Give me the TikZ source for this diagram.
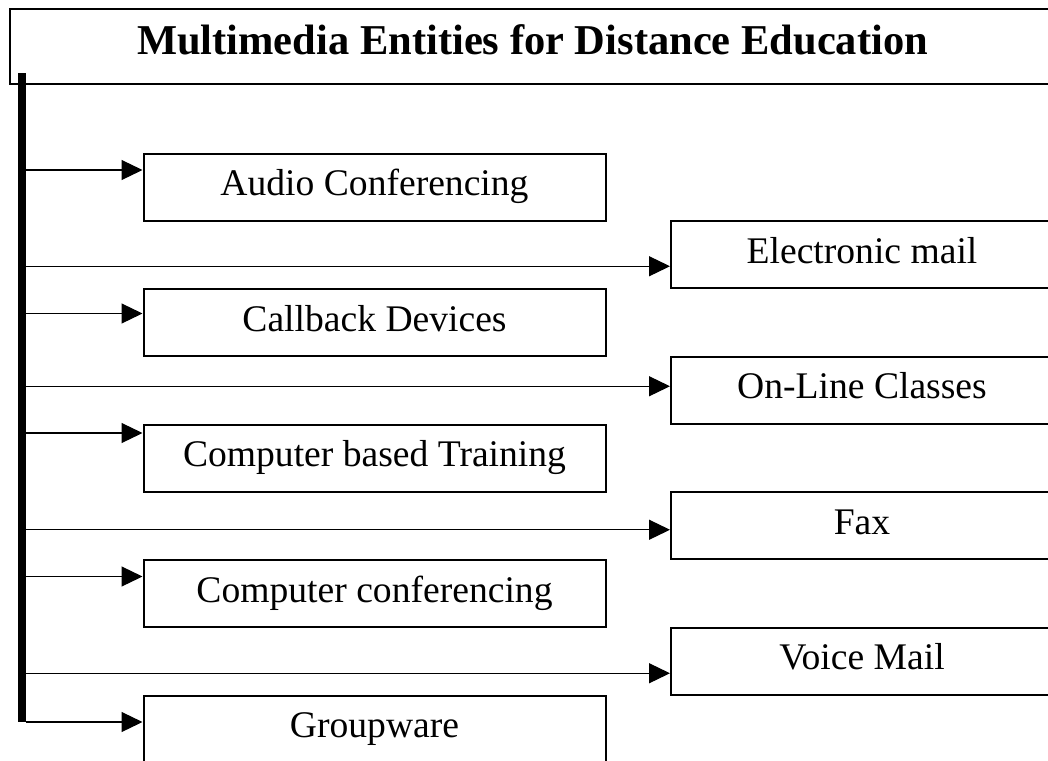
\documentclass[tikz,border=0pt]{standalone}
\usepackage{fontspec}
\setmainfont{Liberation Serif}
\usetikzlibrary{positioning,arrows.meta}
\tikzset{entity/.style={draw,line width=2pt,minimum width=462pt,minimum height=67pt,inner sep=0pt,
    text height=26pt,text depth=9pt,font=\fontsize{37.6}{44}\selectfont},
  farentity/.style={entity,minimum width=382pt},
  feed/.style={-{Triangle[length=21pt,width=20pt]},line width=1.2pt}}

\begin{document}
\begin{tikzpicture}[x=1pt,y=-1pt]
\useasboundingbox (0,0) rectangle (1048,760);
\node[draw,line width=2pt,minimum width=1046pt,minimum height=75pt,inner sep=0pt,
  text height=30pt,text depth=13pt,font=\fontsize{42.5}{50}\selectfont\bfseries]
  (title) at (532.5,46.5) {Multimedia Entities for Distance Education};
\node[fill,inner sep=0pt,minimum width=7.7pt,minimum height=649pt] (bar) at (22.15,397.5) {};

\node[entity] (audio) at (374.5,187) {Audio Conferencing};
\node[farentity] (email) at (862,254.75) {Electronic mail};
\node[entity] (callback) at (374.5,322.5) {Callback Devices};
\node[farentity] (online) at (862,390.25) {On-Line Classes};
\node[entity] (cbt) at (374.5,458) {Computer based Training};
\node[farentity] (fax) at (862,525.75) {Fax};
\node[entity] (confer) at (374.5,593.5) {Computer conferencing};
\node[farentity] (voice) at (862,661.25) {Voice Mail};
\node[entity] (group) at (374.5,729) {Groupware};

% where the arrows meet the boxes
\coordinate (in1) at ([yshift=17pt]audio.west);
\coordinate (in2) at ([yshift=-11.5pt]email.west);
\coordinate (in3) at ([yshift=9pt]callback.west);
\coordinate (in4) at ([yshift=4pt]online.west);
\coordinate (in5) at ([yshift=25pt]cbt.west);
\coordinate (in6) at ([yshift=-4pt]fax.west);
\coordinate (in7) at ([yshift=17pt]confer.west);
\coordinate (in8) at ([yshift=-12pt]voice.west);
\coordinate (in9) at ([yshift=7pt]group.west);

\draw[feed] (bar.east |- in1) -- (in1);
\draw[feed] (bar.east |- in2) -- (in2);
\draw[feed] (bar.east |- in3) -- (in3);
\draw[feed] (bar.east |- in4) -- (in4);
\draw[feed] (bar.east |- in5) -- (in5);
\draw[feed] (bar.east |- in6) -- (in6);
\draw[feed] (bar.east |- in7) -- (in7);
\draw[feed] (bar.east |- in8) -- (in8);
\draw[feed] (bar.east |- in9) -- (in9);

\end{tikzpicture}
\end{document}
